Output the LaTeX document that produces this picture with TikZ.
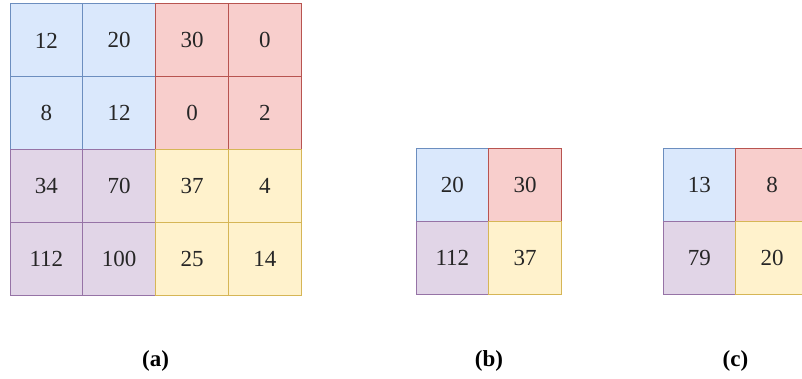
\documentclass[tikz,border=0pt]{standalone}
\usepackage{fontspec}
\setmainfont{Liberation Serif}
\usetikzlibrary{positioning}
\definecolor{bluefill}{HTML}{DAE8FC}
\definecolor{blueline}{HTML}{6C8EBF}
\definecolor{redfill}{HTML}{F8CECC}
\definecolor{redline}{HTML}{B85450}
\definecolor{purplefill}{HTML}{E1D5E7}
\definecolor{purpleline}{HTML}{9673A6}
\definecolor{yellowfill}{HTML}{FFF2CC}
\definecolor{yellowline}{HTML}{D6B656}

\begin{document}
\begin{tikzpicture}[x=0.5pt, y=-0.5pt, node distance=0pt,
  cell/.style={draw, line width=0.5pt, minimum size=36.4pt, inner sep=0pt,
               outer sep=0pt, text=black!85, font=\fontsize{11.5}{13}\selectfont},
  bcell/.style={cell, fill=bluefill, draw=blueline},
  rcell/.style={cell, fill=redfill, draw=redline},
  pcell/.style={cell, fill=purplefill, draw=purpleline},
  ycell/.style={cell, fill=yellowfill, draw=yellowline},
  caption/.style={font=\fontsize{11.5}{13}\selectfont\bfseries},
  ]
  \useasboundingbox (0,0) rectangle (802,379);
  \clip (0,0) rectangle (802,379);
  % (a) 4x4 input
  \node[bcell, anchor=north west] (a11) at (10,4) {12};
  \node[bcell, right=of a11] (a12) {20};
  \node[rcell, right=of a12] (a13) {30};
  \node[rcell, right=of a13] (a14) {0};
  \node[bcell, below=of a11] (a21) {8};
  \node[bcell, right=of a21] (a22) {12};
  \node[rcell, right=of a22] (a23) {0};
  \node[rcell, right=of a23] (a24) {2};
  \node[pcell, below=of a21] (a31) {34};
  \node[pcell, right=of a31] (a32) {70};
  \node[ycell, right=of a32] (a33) {37};
  \node[ycell, right=of a33] (a34) {4};
  \node[pcell, below=of a31] (a41) {112};
  \node[pcell, right=of a41] (a42) {100};
  \node[ycell, right=of a42] (a43) {25};
  \node[ycell, right=of a43] (a44) {14};
  % (b) max pooling
  \node[bcell, anchor=north west] (b11) at (416,149) {20};
  \node[rcell, right=of b11] (b12) {30};
  \node[pcell, below=of b11] (b21) {112};
  \node[ycell, right=of b21] (b22) {37};
  % (c) average pooling
  \node[bcell, anchor=north west] (c11) at (663,149) {13};
  \node[rcell, right=of c11] (c12) {8};
  \node[pcell, below=of c11] (c21) {79};
  \node[ycell, right=of c21] (c22) {20};
  % captions
  \node[caption] (capa) at (155.5,361) {(a)};
  \node[caption] (capb) at (489,361) {(b)};
  \node[caption] (capc) at (735.5,361) {(c)};
\end{tikzpicture}
\end{document}
